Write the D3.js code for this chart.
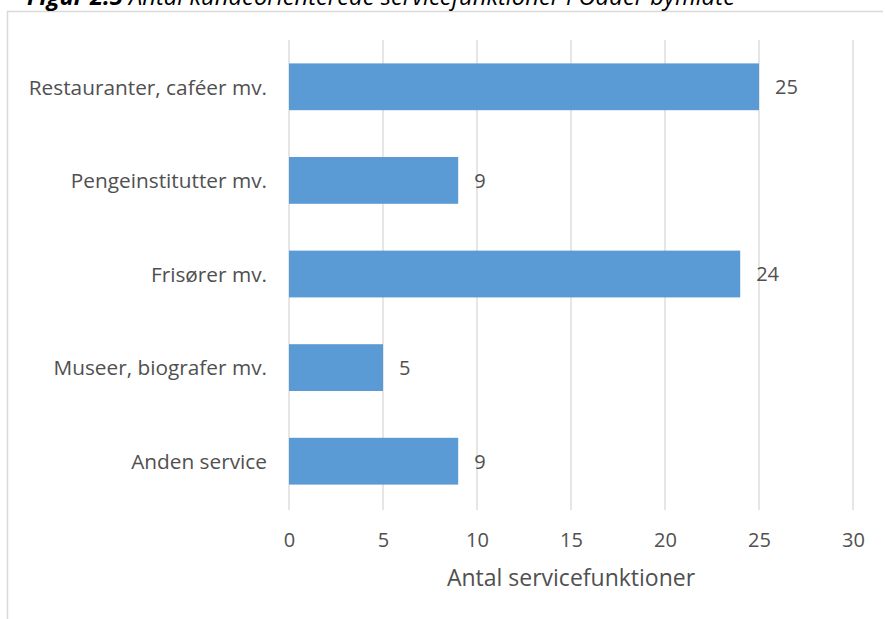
<!DOCTYPE html>
<html><head><meta charset="utf-8">
<script src="https://cdn.jsdelivr.net/npm/d3@7"></script>
<style>body{margin:0;background:#fff}svg{display:block}</style>
</head><body>
<script>
const categories = ["Restauranter, caféer mv.", "Pengeinstitutter mv.", "Frisører mv.", "Museer, biografer mv.", "Anden service"];
const values = [25, 9, 24, 5, 9];
const xTicks = [0, 5, 10, 15, 20, 25, 30];
const xTitle = "Antal servicefunktioner";
const titleBold = "Figur 2.5";
const titleRest = " Antal kundeorienterede servicefunktioner i Odder bymidte";

const W = 885, H = 619;
const font = "'Open Sans', sans-serif";
const txt = "#505050";
const svg = d3.select("body").append("svg").attr("width", W).attr("height", H);

// frame
svg.append("path").attr("d", `M7.5,${H} V11.5 H883`).attr("fill","none").attr("stroke","#d9d9d9").attr("stroke-width",1.5);

// title (cropped at top, as in the reference)
const t = svg.append("text").attr("x", 27).attr("y", 5).attr("font-family", font).attr("font-size", 23).attr("font-style","italic").attr("fill","#000")
  .attr("textLength", 708).attr("lengthAdjust", "spacingAndGlyphs");
t.append("tspan").attr("font-weight","bold").text(titleBold);
t.append("tspan").text(titleRest);

const x = d3.scaleLinear().domain([0, 30]).range([289, 853]);
const y = d3.scaleBand().domain(categories).range([40, 508]).paddingInner(0.5).paddingOuter(0.25);

// gridlines
svg.append("g").selectAll("line").data(xTicks).join("line")
  .attr("x1", d => x(d)).attr("x2", d => x(d)).attr("y1", 40).attr("y2", 510)
  .attr("stroke", "#d9d9d9").attr("stroke-width", 1.3);

// bars
svg.append("g").selectAll("rect").data(values).join("rect")
  .attr("x", x(0)).attr("y", (d,i) => y(categories[i]))
  .attr("width", d => x(d) - x(0)).attr("height", y.bandwidth())
  .attr("fill", "#5b9bd5");

// value labels
svg.append("g").selectAll("text").data(values).join("text")
  .attr("x", d => x(d) + 16).attr("y", (d,i) => y(categories[i]) + y.bandwidth()/2)
  .attr("dy", "0.37em").attr("font-family", font).attr("font-size", 20).attr("fill", txt)
  .text(d => d);

// category axis
const ya = svg.append("g").attr("transform", `translate(${x(0)},0)`).call(d3.axisLeft(y).tickSize(0).tickPadding(22));
ya.select(".domain").remove();
ya.selectAll("text").attr("font-family", font).attr("font-size", 20.8).attr("fill", txt).attr("dy", "0.37em");

// x axis
const xa = svg.append("g").attr("transform", `translate(0,510)`).call(d3.axisBottom(x).tickValues(xTicks).tickSize(0).tickPadding(23));
xa.select(".domain").remove();
xa.selectAll("text").attr("font-family", font).attr("font-size", 20).attr("fill", txt);

svg.append("text").attr("x", (x(0)+x(30))/2).attr("y", 586).attr("text-anchor","middle")
  .attr("font-family", font).attr("font-size", 23).attr("fill", txt).text(xTitle);
</script>
</body></html>
